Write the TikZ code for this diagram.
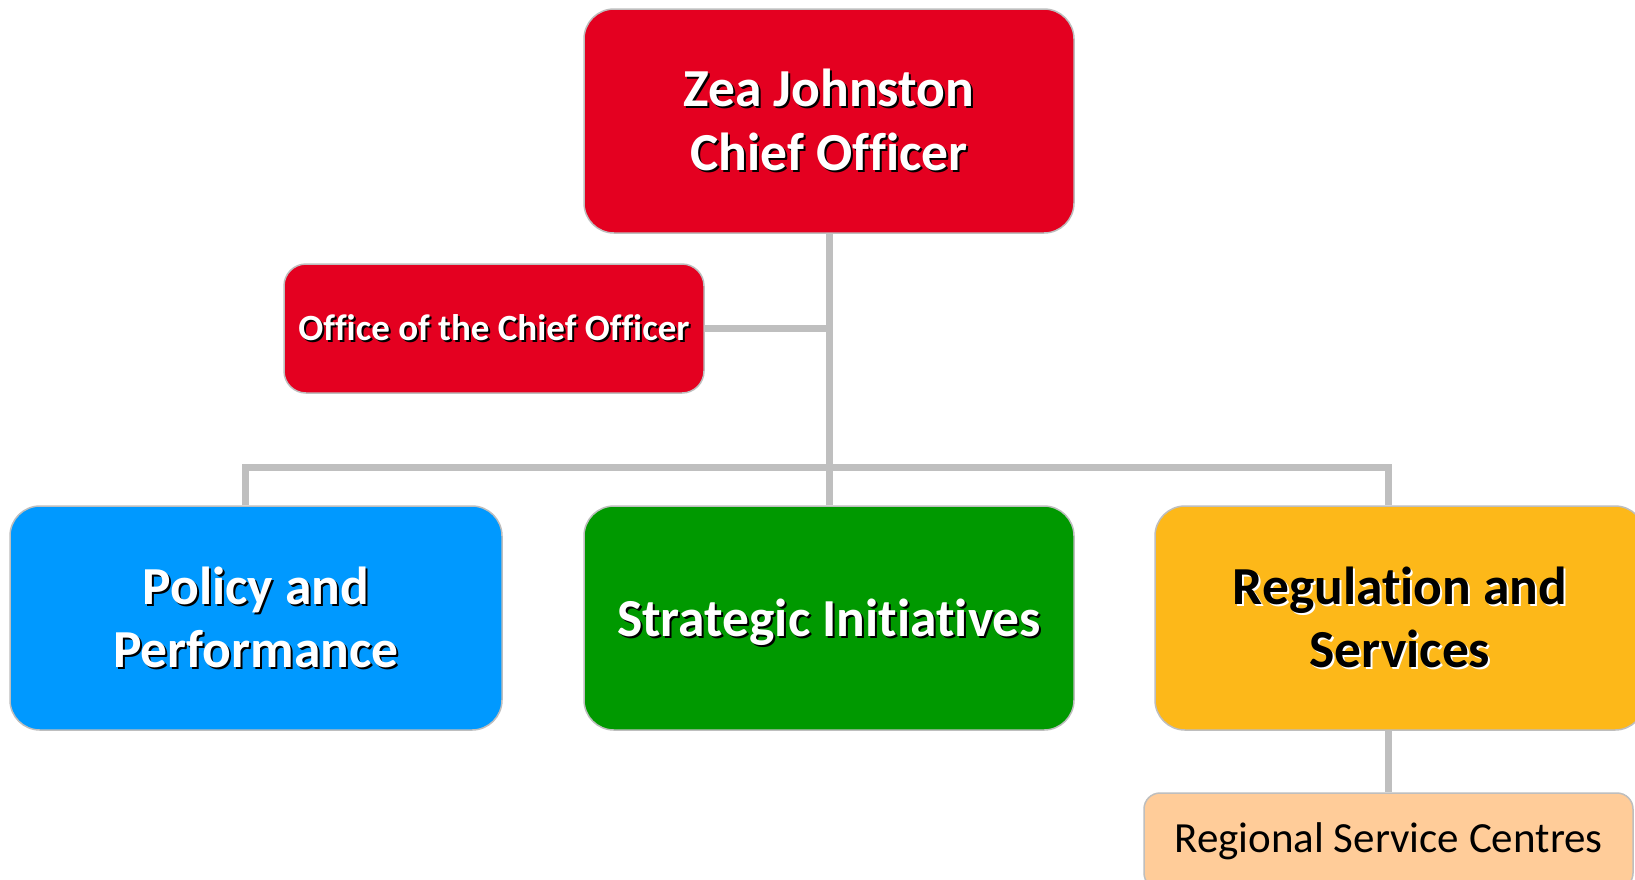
\documentclass[tikz,border=0pt]{standalone}
\usepackage{fontspec}
\setmainfont{Carlito}[Ligatures={NoCommon,NoRare}]
\definecolor{cred}{RGB}{228,0,32}
\definecolor{cblue}{RGB}{0,153,255}
\definecolor{cgreen}{RGB}{0,153,0}
\definecolor{corange}{RGB}{253,184,25}
\definecolor{cpeach}{RGB}{255,204,153}
\definecolor{cline}{RGB}{191,191,191}
\definecolor{cborder}{RGB}{190,190,190}
\newcommand{\shtext}[2]{\makebox[0pt][l]{\hspace{2pt}\raisebox{-2pt}{\color{#2}#1}}#1}
\tikzset{
  orgbox/.style={draw=cborder, line width=1.5pt, rounded corners=30pt, inner sep=0pt, align=center},
  conn/.style={draw=cline, line width=7pt}
}
\begin{document}
\begin{tikzpicture}[x=1pt,y=-1pt]
\clip (0,0) rectangle (1635,879);
\fill[white] (0,0) rectangle (1635,879);
% nodes
\node[orgbox, fill=cred, text=white, minimum width=490pt, minimum height=224pt,
  font=\bfseries\fontsize{53.5}{64}\selectfont] (ceo) at (829,121)
  {\shtext{Zea Johnston}{black}\\\shtext{Chief Officer}{black}};
\node[orgbox, fill=cred, text=white, rounded corners=22pt, minimum width=420pt, minimum height=129pt,
  font=\bfseries\fontsize{37}{44}\selectfont] (office) at (494,328.5)
  {\raisebox{-12pt}[0pt][0pt]{\shtext{Office of the Chief Officer}{black}}};
\node[orgbox, fill=cblue, text=white, minimum width=492pt, minimum height=224pt,
  font=\bfseries\fontsize{53.5}{63}\selectfont] (policy) at (256,618)
  {\raisebox{-2pt}{\shtext{Policy and}{black}}\\\raisebox{-2pt}{\shtext{Performance}{black}}};
\node[orgbox, fill=cgreen, text=white, minimum width=490pt, minimum height=224pt,
  font=\bfseries\fontsize{53.5}{63}\selectfont] (strat) at (829,618)
  {\raisebox{-18pt}[0pt][0pt]{\shtext{Strategic Initiatives}{black}}};
\node[orgbox, fill=corange, text=black, minimum width=490pt, minimum height=224pt,
  font=\bfseries\fontsize{53.5}{63}\selectfont] (reg) at (1400,618)
  {\shtext{Regulation and}{white}\\\shtext{Services}{white}};
\node[orgbox, fill=cpeach, text=black, rounded corners=16pt, minimum width=489pt, minimum height=96pt,
  font=\fontsize{43}{50}\selectfont] (rsc) at (1388.5,841)
  {\raisebox{-11pt}[0pt][0pt]{Regional Service Centres}};
% connectors
\coordinate (barL) at (245,467);
\coordinate (barR) at (1388,467);
\draw[conn] (ceo.south) -- (strat.north);
\draw[conn] (office.east) -- (office.east -| ceo.south);
\draw[conn] (policy.north -| barL) -- (barL) -- (barR) -- (reg.north -| barR);
\draw[conn] (reg.south -| barR) -- (rsc.north -| barR);
\end{tikzpicture}
\end{document}
